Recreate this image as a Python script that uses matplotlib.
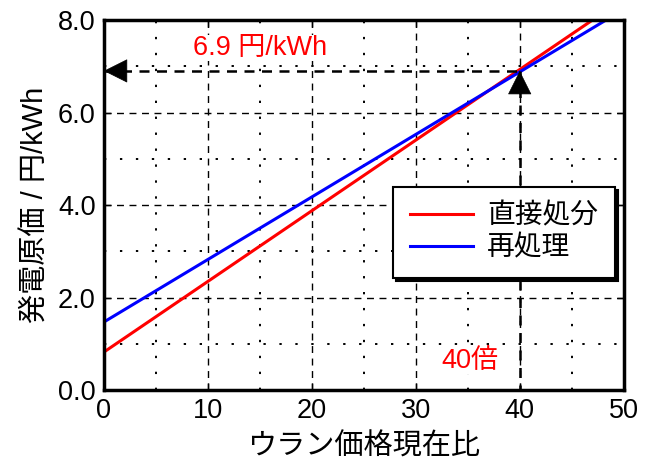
import numpy as np
import matplotlib.pyplot as plt
from matplotlib.ticker import MultipleLocator

plt.rcParams['font.family'] = ['Liberation Sans', 'Noto Sans CJK JP']

# 直接処分 / 再処理 の発電原価 (円/kWh) vs ウラン価格現在比
x_direct = [0, 47.0]
y_direct = [0.82, 8.0]
x_reproc = [0, 48.3]
y_reproc = [1.47, 8.0]

cross_x = 40
cross_y = 6.9

fig = plt.figure(figsize=(6.49, 4.66), dpi=100)
ax = fig.add_axes([0.160, 0.163, 0.801, 0.794])

ax.set_xlim(0, 50)
ax.set_ylim(0, 8)
ax.xaxis.set_major_locator(MultipleLocator(10))
ax.xaxis.set_minor_locator(MultipleLocator(5))
ax.yaxis.set_major_locator(MultipleLocator(2))
ax.yaxis.set_minor_locator(MultipleLocator(1))
ax.yaxis.set_major_formatter(plt.FormatStrFormatter('%.1f'))

ax.grid(which='major', color='black', linestyle=(0, (5, 4)), linewidth=1.0)
ax.grid(which='minor', color='black', linestyle=(0, (1.2, 7)), linewidth=1.4)

ax.tick_params(which='major', direction='in', length=5, width=1,
               top=True, right=True, labelsize=19.5, pad=6)
ax.tick_params(which='minor', length=0)

for s in ax.spines.values():
    s.set_linewidth(2.5)

ax.plot(x_direct, y_direct, color='red', linewidth=2.2, label='直接処分')
ax.plot(x_reproc, y_reproc, color='blue', linewidth=2.2, label='再処理')

# 破線の矢印
ax.plot([0, cross_x], [cross_y, cross_y], color='black',
        linestyle=(0, (4, 3)), linewidth=1.8)
ax.plot([cross_x, cross_x], [0, cross_y], color='black',
        linestyle=(2, (4, 3)), linewidth=1.8)
head = dict(arrowstyle='-|>,head_length=1.6,head_width=0.8', color='black',
            linewidth=0.5, shrinkA=0, shrinkB=0)
ax.annotate('', xy=(0, cross_y), xytext=(2.2, cross_y), arrowprops=head)
ax.annotate('', xy=(cross_x, cross_y), xytext=(cross_x, cross_y - 0.5),
            arrowprops=head)

box = dict(facecolor='white', edgecolor='none', pad=0)
ax.text(15, 7.4, '6.9 円/kWh', color='red', fontsize=19.5, ha='center',
        va='center', bbox=box)
ax.text(35.2, 0.62, '40倍', color='red', fontsize=19.5, ha='center',
        va='center', bbox=box)

ax.set_xlabel('ウラン価格現在比', fontsize=21, labelpad=6)
ax.set_ylabel('発電原価 / 円/kWh', fontsize=21, labelpad=6)

leg = ax.legend(loc='upper left', bbox_to_anchor=(0.556, 0.549), fontsize=20,
                fancybox=False, shadow={'color': 'black', 'alpha': 1},
                edgecolor='black', framealpha=1, handlelength=2.3,
                borderpad=0.6, labelspacing=0.2, handletextpad=0.5,
                borderaxespad=0)
leg.get_frame().set_linewidth(1.5)

fig.savefig('out.png', dpi=100)
